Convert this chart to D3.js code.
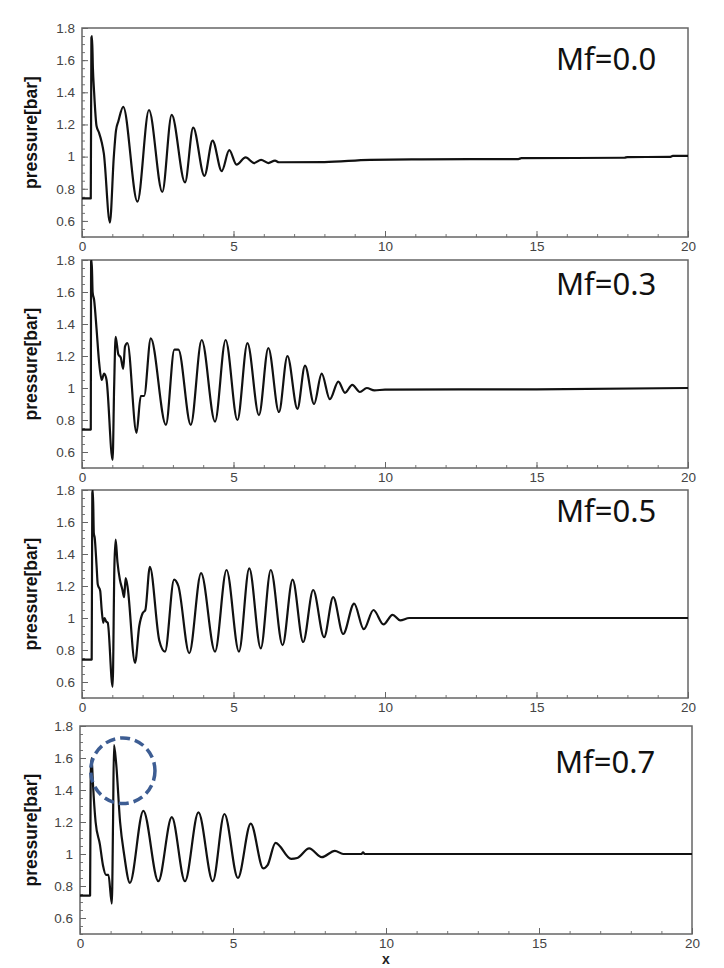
<!DOCTYPE html>
<html><head><meta charset="utf-8">
<script src="https://cdnjs.cloudflare.com/ajax/libs/d3/7.8.5/d3.min.js"></script>
<style>body{margin:0;background:#fff}svg{display:block}</style>
</head><body><svg id="c" width="724" height="968"></svg>
<script>
const labels = ["Mf=0.0","Mf=0.3","Mf=0.5","Mf=0.7"];
const xTicks = [0,5,10,15,20];
const yTicks = [0.6,0.8,1,1.2,1.4,1.6,1.8];
const yLabel = "pressure[bar]";
const xLabel = "x";

const mf00 = [[0,0.74],[0.29,0.74],[0.31,1.74],[0.33,1.75],[0.36,1.55],[0.40,1.40],[0.48,1.19],[0.56,1.15],[0.65,1.09],[0.72,1.02],[0.92,0.59],[1.05,1.0],[1.12,1.16],[1.2,1.22],[1.36,1.31],[1.83,0.72],[2.21,1.29],[2.65,0.78],[2.96,1.26],[3.40,0.84],[3.67,1.18],[4.04,0.88],[4.31,1.10],[4.61,0.91],[4.86,1.04],[5.10,0.95],[5.40,0.995],[5.68,0.96],[5.91,0.98],[6.15,0.96],[6.37,0.975],[6.5,0.965],[8.0,0.966],[9.5,0.98],[11.2,0.983],[14.4,0.985],[14.5,0.99],[17.9,0.993],[18.0,0.997],[19.4,0.998],[19.5,1.004],[20,1.005]];
const mf03 = [[0,0.74],[0.29,0.74],[0.30,1.79],[0.32,1.8],[0.35,1.60],[0.40,1.55],[0.48,1.37],[0.56,1.17],[0.65,1.05],[0.73,1.09],[0.81,1.05],[1.01,0.55],[1.06,1.0],[1.11,1.32],[1.2,1.21],[1.28,1.19],[1.36,1.12],[1.42,1.26],[1.50,1.28],[1.80,0.72],[1.94,0.95],[2.05,0.95],[2.27,1.31],[2.77,0.77],[3.05,1.24],[3.18,1.24],[3.59,0.77],[3.95,1.30],[4.39,0.79],[4.74,1.30],[5.13,0.80],[5.46,1.28],[5.84,0.83],[6.15,1.25],[6.50,0.85],[6.78,1.20],[7.11,0.87],[7.36,1.14],[7.66,0.90],[7.91,1.09],[8.18,0.93],[8.46,1.04],[8.68,0.97],[8.92,1.02],[9.17,0.975],[9.4,1.0],[9.65,0.985],[10,0.99],[15,0.992],[20,1.0]];
const mf05 = [[0,0.74],[0.32,0.74],[0.34,1.78],[0.36,1.8],[0.39,1.53],[0.42,1.50],[0.48,1.33],[0.52,1.21],[0.60,1.17],[0.65,1.05],[0.70,0.97],[0.74,1.0],[0.79,0.98],[0.85,0.97],[1.01,0.57],[1.07,1.33],[1.11,1.49],[1.17,1.35],[1.25,1.24],[1.33,1.18],[1.39,1.13],[1.44,1.25],[1.50,1.20],[1.75,0.72],[1.89,0.95],[2.0,1.03],[2.09,1.05],[2.24,1.32],[2.55,0.86],[2.74,0.79],[3.04,1.24],[3.18,1.20],[3.54,0.78],[3.93,1.28],[4.39,0.79],[4.77,1.30],[5.18,0.79],[5.52,1.31],[5.90,0.81],[6.23,1.30],[6.62,0.83],[6.95,1.24],[7.30,0.85],[7.63,1.175],[7.99,0.88],[8.29,1.13],[8.62,0.90],[8.98,1.09],[9.3,0.93],[9.62,1.05],[9.95,0.96],[10.25,1.02],[10.5,0.985],[10.8,1.0],[11.2,1.0],[20,1.0]];
const mf07 = [[0,0.74],[0.33,0.74],[0.35,1.5],[0.38,1.60],[0.42,1.45],[0.51,1.20],[0.65,1.06],[0.75,0.93],[0.85,0.87],[0.93,0.87],[1.04,0.69],[1.08,1.2],[1.11,1.68],[1.18,1.57],[1.31,1.20],[1.44,1.0],[1.63,0.82],[2.07,1.27],[2.56,0.83],[3.00,1.23],[3.43,0.83],[3.87,1.26],[4.34,0.83],[4.72,1.25],[5.16,0.85],[5.58,1.19],[5.99,0.91],[6.13,0.93],[6.39,1.07],[6.9,0.97],[7.1,0.975],[7.49,1.035],[7.90,0.98],[8.33,1.02],[8.6,1.0],[9.2,1.0],[9.25,1.01],[9.3,1.0],[20,1.0]];
const series = [mf00, mf03, mf05, mf07];
// annotation (dashed circle) in data units, panel 4
const circleCenter = [1.4, 1.52];
const circleRadius = [1.05, 0.205];

const layout = [
  {x0:82, x1:688, y0:28,  y1:237, lx:556, ly:70},
  {x0:82, x1:688, y0:260, y1:468, lx:556, ly:295},
  {x0:82, x1:688, y0:490, y1:698, lx:556, ly:522},
  {x0:80, x1:692, y0:726, y1:934, lx:555, ly:773}
];

const svg = d3.select("#c");
const FONT = "'Liberation Sans', Arial, sans-serif";

series.forEach((data, i) => {
  const L = layout[i];
  const x = d3.scaleLinear().domain([0,20]).range([L.x0, L.x1]);
  const y = d3.scaleLinear().domain([0.5,1.8]).range([L.y1, L.y0]);
  const g = svg.append("g");

  g.append("clipPath").attr("id","clip"+i).append("rect")
    .attr("x",L.x0).attr("y",L.y0).attr("width",L.x1-L.x0).attr("height",L.y1-L.y0);

  // minor ticks
  g.append("g").attr("transform",`translate(0,${L.y1})`)
    .call(d3.axisBottom(x).tickValues(d3.range(0,21,1)).tickSize(-3).tickFormat(""))
    .call(s=>{s.select(".domain").remove(); s.selectAll("line").attr("stroke","#777");});
  g.append("g").attr("transform",`translate(${L.x0},0)`)
    .call(d3.axisLeft(y).tickValues(d3.range(0.5,1.801,0.05)).tickSize(-3).tickFormat(""))
    .call(s=>{s.select(".domain").remove(); s.selectAll("line").attr("stroke","#777");});

  // major
  g.append("g").attr("transform",`translate(0,${L.y1})`)
    .call(d3.axisBottom(x).tickValues(xTicks).tickSize(-6).tickPadding(4).tickFormat(d3.format("d")))
    .call(s=>{s.select(".domain").remove(); s.selectAll("line").attr("stroke","#666");
      s.selectAll("text").attr("fill","#444").attr("font-size","13.5px").attr("font-family",FONT);});
  g.append("g").attr("transform",`translate(${L.x0},0)`)
    .call(d3.axisLeft(y).tickValues(yTicks).tickSize(-6).tickPadding(7).tickFormat(d=>d===1?"1":d3.format(".1f")(d)))
    .call(s=>{s.select(".domain").remove(); s.selectAll("line").attr("stroke","#666");
      s.selectAll("text").attr("fill","#444").attr("font-size","13.5px").attr("font-family",FONT);});

  // frame
  g.append("rect").attr("x",L.x0).attr("y",L.y0).attr("width",L.x1-L.x0).attr("height",L.y1-L.y0)
    .attr("fill","none").attr("stroke","#666").attr("stroke-width",1.5);

  // line
  g.append("path").datum(data).attr("clip-path",`url(#clip${i})`)
    .attr("fill","none").attr("stroke","#111").attr("stroke-width",2.2).attr("stroke-linejoin","round")
    .attr("d", d3.line().x(d=>x(d[0])).y(d=>y(d[1])).curve(d3.curveMonotoneX));

  // y label
  g.append("text").attr("transform",`translate(31,${(L.y0+L.y1)/2}) rotate(-90)`)
    .attr("text-anchor","middle").attr("dominant-baseline","central")
    .attr("font-family",FONT).attr("font-weight","bold").attr("font-size","17.5px").attr("fill","#111")
    .text(yLabel);

  // panel label
  g.append("text").attr("x",L.lx).attr("y",L.ly)
    .attr("font-family","'Noto Sans', sans-serif").attr("font-size","31px").attr("fill","#111")
    .text(labels[i]);

  if (i === 3) {
    g.append("text").attr("x",x(10)).attr("y",L.y1+30).attr("text-anchor","middle")
      .attr("font-family",FONT).attr("font-weight","bold").attr("font-size","14px").attr("fill","#222")
      .text(xLabel);
    g.append("ellipse").attr("cx",x(circleCenter[0])).attr("cy",y(circleCenter[1]))
      .attr("rx",x(circleRadius[0])-x(0)).attr("ry",y(0)-y(circleRadius[1]))
      .attr("fill","none").attr("stroke","#3d5d93").attr("stroke-width",3.5)
      .attr("stroke-dasharray","10,5");
  }
});
</script></body></html>
